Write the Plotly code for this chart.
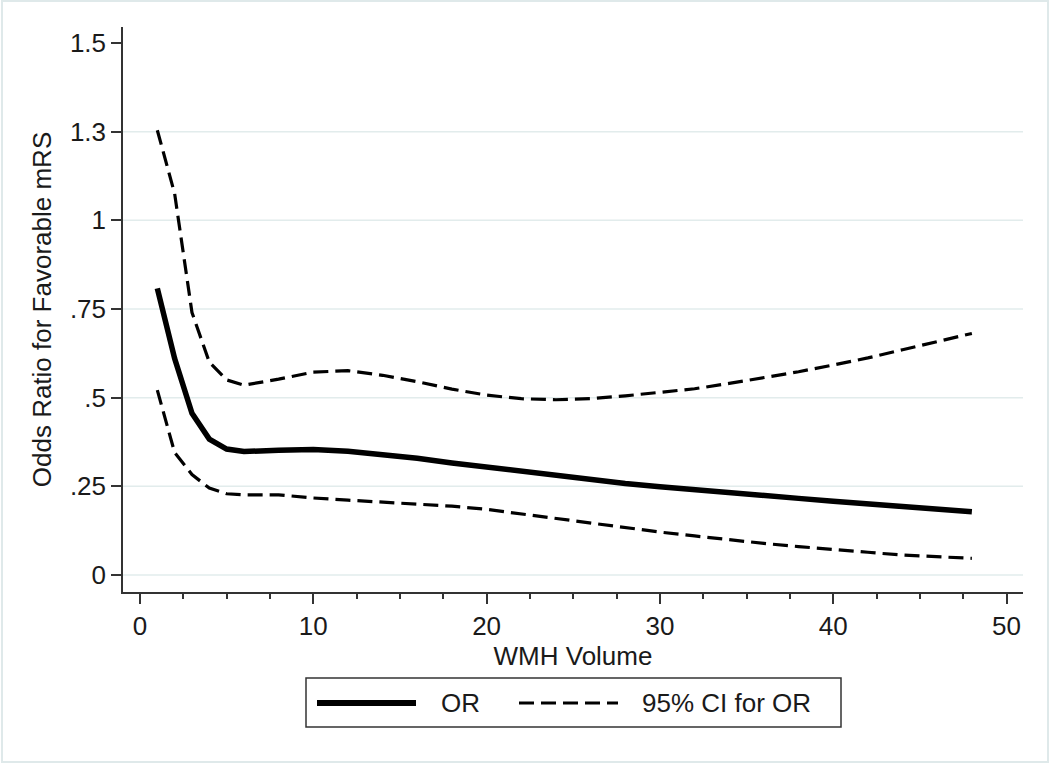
import plotly.graph_objects as go

# ---- data ----
wmh = [1, 2, 3, 4, 5, 6, 8, 10, 12, 14, 16, 18, 20, 22, 24, 26, 28, 30,
       32, 34, 36, 38, 40, 42, 44, 46, 48]
odds_ratio = [0.808, 0.610, 0.456, 0.383, 0.355, 0.348, 0.352, 0.354, 0.349,
              0.340, 0.329, 0.316, 0.304, 0.292, 0.280, 0.269, 0.258, 0.249,
              0.240, 0.231, 0.223, 0.216, 0.208, 0.201, 0.194, 0.186, 0.178]
ci_upper = [1.254, 1.075, 0.740, 0.600, 0.550, 0.535, 0.552, 0.572, 0.576,
            0.563, 0.545, 0.524, 0.507, 0.497, 0.494, 0.497, 0.505, 0.514,
            0.525, 0.540, 0.556, 0.573, 0.592, 0.612, 0.635, 0.658, 0.681]
ci_lower = [0.521, 0.345, 0.283, 0.245, 0.229, 0.226, 0.226, 0.217, 0.211,
            0.206, 0.200, 0.194, 0.185, 0.172, 0.160, 0.146, 0.133, 0.121,
            0.110, 0.099, 0.089, 0.080, 0.071, 0.064, 0.056, 0.051, 0.047]

y_tickvals = [0, 0.25, 0.5, 0.75, 1.0, 1.25, 1.5]
y_ticktext = ["0", ".25", ".5", ".75", "1", "1.3", "1.5"]
grid_vals = [0, 0.25, 0.5, 0.75, 1.0, 1.25]
x_tickvals = [0, 10, 20, 30, 40, 50]

series_names = ["OR", "95% CI for OR"]

FONT = "Arial, 'Liberation Sans', Helvetica, sans-serif"
FS = 26
TXT = "#1a1a1a"
W, H = 1050, 764
L, R, T, B = 123, 27, 27, 172
PW, PH = W - L - R, H - T - B
DASH = "15px,7px"

fig = go.Figure()
fig.add_trace(go.Scatter(x=wmh, y=ci_upper, mode="lines", name=series_names[1],
                         line=dict(color="black", width=3.2, dash=DASH),
                         showlegend=False))
fig.add_trace(go.Scatter(x=wmh, y=ci_lower, mode="lines", name=series_names[1],
                         line=dict(color="black", width=3.2, dash=DASH),
                         showlegend=False))
fig.add_trace(go.Scatter(x=wmh, y=odds_ratio, mode="lines", name=series_names[0],
                         line=dict(color="black", width=5.5),
                         showlegend=False))

shapes = []
# gridlines (Stata omits the one at the top edge)
for g in grid_vals:
    shapes.append(dict(type="line", xref="paper", yref="y", x0=0, x1=1, y0=g, y1=g,
                       line=dict(color="#e2ecec", width=1.5), layer="below"))
# outer graph-region border
shapes.append(dict(type="rect", xref="paper", yref="paper",
                   x0=-(L - 2) / PW, x1=1 + (R - 2) / PW,
                   y0=-(B - 2) / PH, y1=1 + (T - 1) / PH,
                   line=dict(color="#dfe9ea", width=2), layer="below"))


def px(xp):
    return (xp - L) / PW


def py(yp):
    return 1 - (yp - T) / PH


# legend box
shapes.append(dict(type="rect", xref="paper", yref="paper",
                   x0=px(306), x1=px(841), y0=py(727), y1=py(678),
                   line=dict(color="#333333", width=1.5), fillcolor="white"))
shapes.append(dict(type="line", xref="paper", yref="paper",
                   x0=px(317), x1=px(416), y0=py(703), y1=py(703),
                   line=dict(color="black", width=6)))
shapes.append(dict(type="line", xref="paper", yref="paper",
                   x0=px(519), x1=px(618), y0=py(703), y1=py(703),
                   line=dict(color="black", width=3.2, dash=DASH)))

annotations = [
    dict(xref="paper", yref="paper", x=px(439), y=py(703), text=series_names[0],
         showarrow=False, xanchor="left", yanchor="middle",
         font=dict(family=FONT, size=FS, color=TXT)),
    dict(xref="paper", yref="paper", x=px(640), y=py(703), text=series_names[1],
         showarrow=False, xanchor="left", yanchor="middle",
         font=dict(family=FONT, size=FS, color=TXT)),
]

fig.update_layout(
    width=W, height=H,
    margin=dict(l=L, r=R, t=T, b=B, autoexpand=False),
    paper_bgcolor="white", plot_bgcolor="white",
    font=dict(family=FONT, size=FS, color=TXT),
    shapes=shapes, annotations=annotations,
    showlegend=False,
    xaxis=dict(
        range=[-0.98, 50.95], tickvals=x_tickvals, ticks="outside", ticklen=10,
        tickwidth=1.5, tickcolor="#333333", showline=True, linecolor="#333333",
        linewidth=1.5, showgrid=False, zeroline=False,
        minor=dict(dtick=2.5, tick0=0, ticks="outside", ticklen=5,
                   tickwidth=1.5, tickcolor="#333333", showgrid=False),
        tickfont=dict(size=FS, color=TXT),
        title=dict(text="WMH Volume", font=dict(size=FS, color=TXT), standoff=0),
        automargin=False,
    ),
    yaxis=dict(
        range=[-0.048, 1.545], tickvals=y_tickvals, ticktext=y_ticktext,
        ticks="outside", ticklen=10, tickwidth=1.5, tickcolor="#333333",
        showline=True, linecolor="#333333", linewidth=1.5, showgrid=False,
        zeroline=False, tickfont=dict(size=FS, color=TXT),
        title=dict(text="Odds Ratio for Favorable mRS",
                   font=dict(size=FS, color=TXT), standoff=11),
        automargin=False,
    ),
)

fig.write_html("out.html", config={"displayModeBar": False},
               post_script="document.body.style.margin='0';")
